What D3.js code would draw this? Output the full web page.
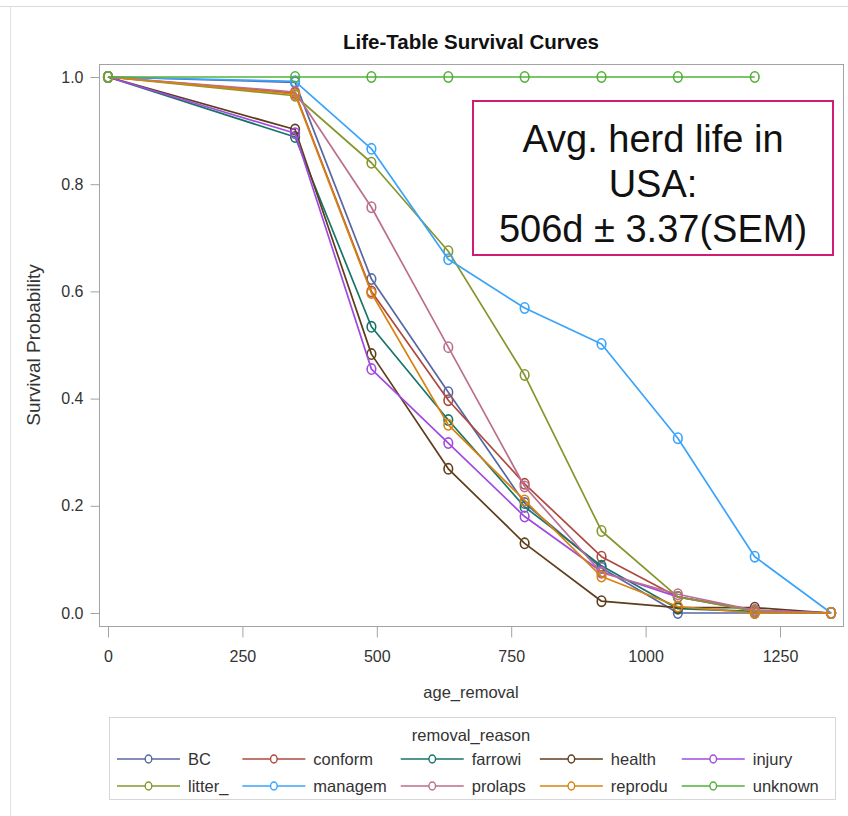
<!DOCTYPE html>
<html>
<head>
<meta charset="utf-8">
<script src="https://cdn.jsdelivr.net/npm/d3@7"></script>
<style>
  html, body { margin: 0; padding: 0; background: #fff; }
  svg text { font-family: "Liberation Sans", Arial, Helvetica, sans-serif; }
</style>
</head>
<body>
<svg id="chart" width="848" height="816"></svg>
<script>
// ---------- data ----------
const ages = [0, 348, 490, 633, 775, 918, 1060, 1203, 1345];
const reasons = ["BC", "conform", "farrowi", "health", "injury",
                 "litter_", "managem", "prolaps", "reprodu", "unknown"];
const BC      = [1, 0.990, 0.623, 0.412, 0.205, 0.084, 0.000, 0.000, 0];
const conform = [1, 0.970, 0.600, 0.397, 0.241, 0.105, 0.030, 0.005, 0];
const farrowi = [1, 0.888, 0.534, 0.360, 0.198, 0.088, 0.008, 0.003, 0];
const health  = [1, 0.902, 0.483, 0.269, 0.130, 0.022, 0.010, 0.010, 0];
const injury  = [1, 0.895, 0.455, 0.317, 0.180, 0.077, 0.030, 0.005, 0];
const litter_ = [1, 0.965, 0.840, 0.675, 0.444, 0.153, 0.030, 0.003, 0];
const managem = [1, 0.992, 0.866, 0.660, 0.569, 0.502, 0.326, 0.105, 0];
const prolaps = [1, 0.972, 0.757, 0.496, 0.236, 0.075, 0.035, 0.005, 0];
const reprodu = [1, 0.968, 0.597, 0.351, 0.210, 0.068, 0.012, 0.000, 0];
const unknown = [1, 1, 1, 1, 1, 1, 1, 1];
const seriesValues = [BC, conform, farrowi, health, injury, litter_, managem, prolaps, reprodu, unknown];
const colors = ["#5767A4", "#AD4A3E", "#167468", "#5E3D1A", "#A24AE0",
                "#86962F", "#3AA3FB", "#BC6E8E", "#D8820F", "#52B03A"];
const xTicks = [0, 250, 500, 750, 1000, 1250];
const yTicks = [0, 0.2, 0.4, 0.6, 0.8, 1.0];
const titleText = "Life-Table Survival Curves";
const xLabel = "age_removal";
const yLabel = "Survival Probability";
const legendTitle = "removal_reason";
const noteLines = ["Avg. herd life in", "USA:", "506d \u00B1 3.37(SEM)"];

// ---------- layout ----------
const svg = d3.select("#chart");
const frame = {left: 99, right: 843, top: 64, bottom: 626};
const x = d3.scaleLinear().domain([0, 1250]).range([108, 780]);
const y = d3.scaleLinear().domain([0, 1]).range([613, 77]);
const axisColor = "#A3A3A3";

// outer light border
svg.append("line").attr("x1", 0).attr("x2", 848).attr("y1", 6.5).attr("y2", 6.5)
  .attr("stroke", "#DADADA").attr("stroke-width", 1);
svg.append("line").attr("x1", 10.5).attr("x2", 10.5).attr("y1", 6).attr("y2", 816)
  .attr("stroke", "#E2E2E2").attr("stroke-width", 1);

// title
svg.append("text").attr("x", 471).attr("y", 49).attr("text-anchor", "middle")
  .attr("font-size", 20.5).attr("font-weight", "bold").attr("fill", "#111")
  .text(titleText);

// frame
svg.append("rect").attr("x", frame.left + 0.5).attr("y", frame.top + 0.5)
  .attr("width", frame.right - frame.left).attr("height", frame.bottom - frame.top)
  .attr("fill", "none").attr("stroke", axisColor).attr("stroke-width", 1);

// axes
const gx = svg.append("g").attr("transform", `translate(0,${frame.bottom + 0.5})`)
  .call(d3.axisBottom(x).tickValues(xTicks).tickSize(11).tickSizeOuter(0).tickPadding(13)
        .tickFormat(d3.format("d")));
gx.select(".domain").remove();
gx.selectAll(".tick line").attr("stroke", axisColor);
gx.selectAll(".tick text").attr("font-size", 16).attr("fill", "#333")
  .style("font-family", '"Liberation Sans", Arial, sans-serif');

const gy = svg.append("g").attr("transform", `translate(${frame.left + 0.5},0)`)
  .call(d3.axisLeft(y).tickValues(yTicks).tickSize(9).tickSizeOuter(0).tickPadding(7)
        .tickFormat(d3.format(".1f")));
gy.select(".domain").remove();
gy.selectAll(".tick line").attr("stroke", axisColor);
gy.selectAll(".tick text").attr("font-size", 16).attr("fill", "#333")
  .style("font-family", '"Liberation Sans", Arial, sans-serif');

// axis labels
svg.append("text").attr("x", 471).attr("y", 698).attr("text-anchor", "middle")
  .attr("font-size", 16.5).attr("fill", "#333").text(xLabel);
svg.append("text").attr("transform", "translate(40,345) rotate(-90)")
  .attr("text-anchor", "middle").attr("font-size", 19).attr("fill", "#333").text(yLabel);

// series
const series = reasons.map((r, i) => ({
  name: r, color: colors[i],
  pts: seriesValues[i].map((v, j) => ({a: ages[j], s: v}))
}));
const line = d3.line().x(d => x(d.a)).y(d => y(d.s));
const plot = svg.append("g");
series.forEach(s => {
  const g = plot.append("g");
  g.append("path").datum(s.pts).attr("d", line).attr("fill", "none")
    .attr("stroke", s.color).attr("stroke-width", 1.7).attr("stroke-linejoin", "round");
  g.selectAll("ellipse").data(s.pts).join("ellipse")
    .attr("cx", d => x(d.a)).attr("cy", d => y(d.s))
    .attr("rx", 4.3).attr("ry", 5.2)
    .attr("fill", "none").attr("stroke", s.color).attr("stroke-width", 1.6);
});

// note box
const note = svg.append("g");
note.append("rect").attr("x", 473).attr("y", 101).attr("width", 360).attr("height", 154)
  .attr("fill", "#fff").attr("stroke", "#CF1C74").attr("stroke-width", 2);
noteLines.forEach((t, i) => {
  note.append("text").attr("x", 653).attr("y", 152 + i * 45).attr("text-anchor", "middle")
    .attr("font-size", 38).attr("fill", "#111").text(t);
});

// legend
const leg = svg.append("g");
leg.append("rect").attr("x", 109.5).attr("y", 717.5).attr("width", 726).attr("height", 82)
  .attr("fill", "none").attr("stroke", "#D6D6D6").attr("stroke-width", 1);
leg.append("text").attr("x", 471).attr("y", 741).attr("text-anchor", "middle")
  .attr("font-size", 16.5).attr("fill", "#333").text(legendTitle);

const nCols = 5, rowY = [759, 786], lineLen = 63, textGap = 8, colGap = 14;
let colX = 117;
for (let c = 0; c < nCols; c++) {
  let maxW = 0;
  for (let r = 0; r < 2; r++) {
    const idx = r * nCols + c;
    const s = series[idx];
    const gy0 = rowY[r];
    leg.append("line").attr("x1", colX).attr("x2", colX + lineLen)
      .attr("y1", gy0).attr("y2", gy0).attr("stroke", s.color).attr("stroke-width", 1.7);
    leg.append("ellipse").attr("cx", colX + lineLen / 2).attr("cy", gy0)
      .attr("rx", 3.3).attr("ry", 4).attr("fill", "#fff")
      .attr("stroke", s.color).attr("stroke-width", 1.4);
    const t = leg.append("text").attr("x", colX + lineLen + textGap).attr("y", gy0 + 6)
      .attr("font-size", 16.5).attr("fill", "#333").text(s.name);
    maxW = Math.max(maxW, t.node().getComputedTextLength());
  }
  colX = colX + lineLen + textGap + maxW + colGap;
}
</script>
</body>
</html>
